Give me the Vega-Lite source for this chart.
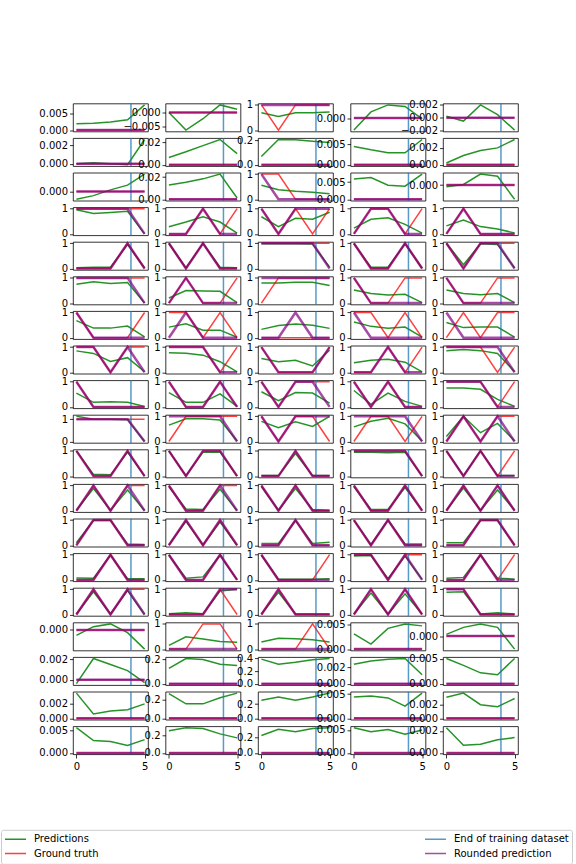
{
"$schema":"https://vega.github.io/schema/vega-lite/v6.json",
"padding":{"left":0,"top":99.5,"right":0,"bottom":0},
"background":"white",
"data":{"values":[
{"r":0,"c":0,"x":0,"g":0.002,"t":0,"p":0},{"r":0,"c":0,"x":1.25,"g":0.0021,"t":0,"p":0},{"r":0,"c":0,"x":2.5,"g":0.0025,"t":0,"p":0},{"r":0,"c":0,"x":3.75,"g":0.0032,"t":0,"p":0},{"r":0,"c":0,"x":5,"g":0.0078,"t":0,"p":0},
{"r":0,"c":1,"x":0,"g":0,"t":0,"p":0},{"r":0,"c":1,"x":1.25,"g":-0.0065,"t":0,"p":0},{"r":0,"c":1,"x":2.5,"g":-0.0023,"t":0,"p":0},{"r":0,"c":1,"x":3.75,"g":0.0028,"t":0,"p":0},{"r":0,"c":1,"x":5,"g":0.0012,"t":0,"p":0},
{"r":0,"c":2,"x":0,"g":0.69,"t":1,"p":1},{"r":0,"c":2,"x":1.25,"g":0.54,"t":0,"p":1},{"r":0,"c":2,"x":2.5,"g":0.69,"t":1,"p":1},{"r":0,"c":2,"x":3.75,"g":0.69,"t":1,"p":1},{"r":0,"c":2,"x":5,"g":0.72,"t":1,"p":1},
{"r":0,"c":3,"x":0,"g":-0.0031,"t":0,"p":0},{"r":0,"c":3,"x":1.25,"g":0.0016,"t":0,"p":0},{"r":0,"c":3,"x":2.5,"g":0.0034,"t":0,"p":0},{"r":0,"c":3,"x":3.75,"g":0.003,"t":0,"p":0},{"r":0,"c":3,"x":5,"g":-0.0002,"t":0,"p":0},
{"r":0,"c":4,"x":0,"g":0.00025,"t":0,"p":0},{"r":0,"c":4,"x":1.25,"g":-0.0005,"t":0,"p":0},{"r":0,"c":4,"x":2.5,"g":0.002,"t":0,"p":0},{"r":0,"c":4,"x":3.75,"g":0.0005,"t":0,"p":0},{"r":0,"c":4,"x":5,"g":-0.0019,"t":0,"p":0},
{"r":1,"c":0,"x":0,"g":0,"t":0,"p":0},{"r":1,"c":0,"x":1.25,"g":0.0001,"t":0,"p":0},{"r":1,"c":0,"x":2.5,"g":0,"t":0,"p":0},{"r":1,"c":0,"x":3.75,"g":-0.0001,"t":0,"p":0},{"r":1,"c":0,"x":5,"g":0.0026,"t":0,"p":0},
{"r":1,"c":1,"x":0,"g":0.0065,"t":0,"p":0},{"r":1,"c":1,"x":1.25,"g":0.0115,"t":0,"p":0},{"r":1,"c":1,"x":2.5,"g":0.017,"t":0,"p":0},{"r":1,"c":1,"x":3.75,"g":0.0225,"t":0,"p":0},{"r":1,"c":1,"x":5,"g":0.0099,"t":0,"p":0},
{"r":1,"c":2,"x":0,"g":0.067,"t":0,"p":0},{"r":1,"c":2,"x":1.25,"g":0.205,"t":0,"p":0},{"r":1,"c":2,"x":2.5,"g":0.203,"t":0,"p":0},{"r":1,"c":2,"x":3.75,"g":0.19,"t":0,"p":0},{"r":1,"c":2,"x":5,"g":0.18,"t":0,"p":0},
{"r":1,"c":3,"x":0,"g":0.0044,"t":0,"p":0},{"r":1,"c":3,"x":1.25,"g":0.0036,"t":0,"p":0},{"r":1,"c":3,"x":2.5,"g":0.0029,"t":0,"p":0},{"r":1,"c":3,"x":3.75,"g":0.0029,"t":0,"p":0},{"r":1,"c":3,"x":5,"g":0.0061,"t":0,"p":0},
{"r":1,"c":4,"x":0,"g":0.0002,"t":0,"p":0},{"r":1,"c":4,"x":1.25,"g":0.0011,"t":0,"p":0},{"r":1,"c":4,"x":2.5,"g":0.0017,"t":0,"p":0},{"r":1,"c":4,"x":3.75,"g":0.002,"t":0,"p":0},{"r":1,"c":4,"x":5,"g":0.003,"t":0,"p":0},
{"r":2,"c":0,"x":0,"g":-0.0015,"t":0,"p":0},{"r":2,"c":0,"x":1.25,"g":-0.0008,"t":0,"p":0},{"r":2,"c":0,"x":2.5,"g":0.0003,"t":0,"p":0},{"r":2,"c":0,"x":3.75,"g":0.0012,"t":0,"p":0},{"r":2,"c":0,"x":5,"g":0.0033,"t":0,"p":0},
{"r":2,"c":1,"x":0,"g":0.013,"t":0,"p":0},{"r":2,"c":1,"x":1.25,"g":0.0154,"t":0,"p":0},{"r":2,"c":1,"x":2.5,"g":0.0185,"t":0,"p":0},{"r":2,"c":1,"x":3.75,"g":0.0228,"t":0,"p":0},{"r":2,"c":1,"x":5,"g":0.0012,"t":0,"p":0},
{"r":2,"c":2,"x":0,"g":0.56,"t":1,"p":1},{"r":2,"c":2,"x":1.25,"g":0.38,"t":1,"p":0},{"r":2,"c":2,"x":2.5,"g":0.32,"t":0,"p":0},{"r":2,"c":2,"x":3.75,"g":0.28,"t":0,"p":0},{"r":2,"c":2,"x":5,"g":0.22,"t":0,"p":0},
{"r":2,"c":3,"x":0,"g":0.0059,"t":0,"p":0},{"r":2,"c":3,"x":1.25,"g":0.0063,"t":0,"p":0},{"r":2,"c":3,"x":2.5,"g":0.0041,"t":0,"p":0},{"r":2,"c":3,"x":3.75,"g":0.0038,"t":0,"p":0},{"r":2,"c":3,"x":5,"g":0.0073,"t":0,"p":0},
{"r":2,"c":4,"x":0,"g":-0.0003,"t":0,"p":0},{"r":2,"c":4,"x":1.25,"g":0.0001,"t":0,"p":0},{"r":2,"c":4,"x":2.5,"g":0.002,"t":0,"p":0},{"r":2,"c":4,"x":3.75,"g":0.0016,"t":0,"p":0},{"r":2,"c":4,"x":5,"g":-0.0026,"t":0,"p":0},
{"r":3,"c":0,"x":0,"g":0.96,"t":1,"p":1},{"r":3,"c":0,"x":1.25,"g":0.81,"t":1,"p":1},{"r":3,"c":0,"x":2.5,"g":0.85,"t":1,"p":1},{"r":3,"c":0,"x":3.75,"g":0.9,"t":1,"p":1},{"r":3,"c":0,"x":5,"g":0,"t":1,"p":0},
{"r":3,"c":1,"x":0,"g":0.28,"t":0,"p":0},{"r":3,"c":1,"x":1.25,"g":0.47,"t":0,"p":0},{"r":3,"c":1,"x":2.5,"g":0.68,"t":1,"p":1},{"r":3,"c":1,"x":3.75,"g":0.47,"t":0,"p":0},{"r":3,"c":1,"x":5,"g":0.03,"t":1,"p":0},
{"r":3,"c":2,"x":0,"g":0.68,"t":1,"p":1},{"r":3,"c":2,"x":1.25,"g":0.29,"t":0,"p":0},{"r":3,"c":2,"x":2.5,"g":0.62,"t":1,"p":1},{"r":3,"c":2,"x":3.75,"g":0.58,"t":0,"p":1},{"r":3,"c":2,"x":5,"g":0.86,"t":1,"p":1},
{"r":3,"c":3,"x":0,"g":0.23,"t":0,"p":0},{"r":3,"c":3,"x":1.25,"g":0.58,"t":1,"p":1},{"r":3,"c":3,"x":2.5,"g":0.64,"t":1,"p":1},{"r":3,"c":3,"x":3.75,"g":0.38,"t":0,"p":0},{"r":3,"c":3,"x":5,"g":0.03,"t":1,"p":0},
{"r":3,"c":4,"x":0,"g":0.32,"t":0,"p":0},{"r":3,"c":4,"x":1.25,"g":0.55,"t":1,"p":1},{"r":3,"c":4,"x":2.5,"g":0.29,"t":0,"p":0},{"r":3,"c":4,"x":3.75,"g":0.19,"t":0,"p":0},{"r":3,"c":4,"x":5,"g":0.04,"t":0,"p":0},
{"r":4,"c":0,"x":0,"g":0.03,"t":0,"p":0},{"r":4,"c":0,"x":1.25,"g":0.05,"t":0,"p":0},{"r":4,"c":0,"x":2.5,"g":0.05,"t":0,"p":0},{"r":4,"c":0,"x":3.75,"g":0.95,"t":1,"p":1},{"r":4,"c":0,"x":5,"g":0.02,"t":0,"p":0},
{"r":4,"c":1,"x":0,"g":1,"t":1,"p":1},{"r":4,"c":1,"x":1.25,"g":0.02,"t":0,"p":0},{"r":4,"c":1,"x":2.5,"g":1,"t":1,"p":1},{"r":4,"c":1,"x":3.75,"g":0.05,"t":0,"p":0},{"r":4,"c":1,"x":5,"g":0.03,"t":0,"p":0},
{"r":4,"c":2,"x":0,"g":0.98,"t":1,"p":1},{"r":4,"c":2,"x":1.25,"g":0.98,"t":1,"p":1},{"r":4,"c":2,"x":2.5,"g":0.98,"t":1,"p":1},{"r":4,"c":2,"x":3.75,"g":0.97,"t":1,"p":1},{"r":4,"c":2,"x":5,"g":0.05,"t":1,"p":0},
{"r":4,"c":3,"x":0,"g":0.98,"t":1,"p":1},{"r":4,"c":3,"x":1.25,"g":0.05,"t":0,"p":0},{"r":4,"c":3,"x":2.5,"g":0.05,"t":0,"p":0},{"r":4,"c":3,"x":3.75,"g":0.98,"t":1,"p":1},{"r":4,"c":3,"x":5,"g":0.02,"t":0,"p":0},
{"r":4,"c":4,"x":0,"g":1,"t":1,"p":1},{"r":4,"c":4,"x":1.25,"g":0.15,"t":0,"p":0},{"r":4,"c":4,"x":2.5,"g":0.98,"t":1,"p":1},{"r":4,"c":4,"x":3.75,"g":0.95,"t":1,"p":1},{"r":4,"c":4,"x":5,"g":0.02,"t":1,"p":0},
{"r":5,"c":0,"x":0,"g":0.75,"t":1,"p":1},{"r":5,"c":0,"x":1.25,"g":0.85,"t":1,"p":1},{"r":5,"c":0,"x":2.5,"g":0.78,"t":1,"p":1},{"r":5,"c":0,"x":3.75,"g":0.82,"t":1,"p":1},{"r":5,"c":0,"x":5,"g":0,"t":1,"p":0},
{"r":5,"c":1,"x":0,"g":0.2,"t":0,"p":0},{"r":5,"c":1,"x":1.25,"g":0.5,"t":1,"p":1},{"r":5,"c":1,"x":2.5,"g":0.48,"t":0,"p":0},{"r":5,"c":1,"x":3.75,"g":0.47,"t":0,"p":0},{"r":5,"c":1,"x":5,"g":0.02,"t":1,"p":0},
{"r":5,"c":2,"x":0,"g":0.8,"t":0,"p":1},{"r":5,"c":2,"x":1.25,"g":0.8,"t":1,"p":1},{"r":5,"c":2,"x":2.5,"g":0.83,"t":1,"p":1},{"r":5,"c":2,"x":3.75,"g":0.83,"t":1,"p":1},{"r":5,"c":2,"x":5,"g":0.7,"t":1,"p":1},
{"r":5,"c":3,"x":0,"g":0.52,"t":1,"p":1},{"r":5,"c":3,"x":1.25,"g":0.38,"t":0,"p":0},{"r":5,"c":3,"x":2.5,"g":0.32,"t":0,"p":0},{"r":5,"c":3,"x":3.75,"g":0.35,"t":1,"p":0},{"r":5,"c":3,"x":5,"g":0.02,"t":1,"p":0},
{"r":5,"c":4,"x":0,"g":0.52,"t":1,"p":1},{"r":5,"c":4,"x":1.25,"g":0.38,"t":0,"p":0},{"r":5,"c":4,"x":2.5,"g":0.33,"t":0,"p":0},{"r":5,"c":4,"x":3.75,"g":0.38,"t":1,"p":0},{"r":5,"c":4,"x":5,"g":0.02,"t":1,"p":0},
{"r":6,"c":0,"x":0,"g":0.68,"t":1,"p":1},{"r":6,"c":0,"x":1.25,"g":0.38,"t":0,"p":0},{"r":6,"c":0,"x":2.5,"g":0.38,"t":0,"p":0},{"r":6,"c":0,"x":3.75,"g":0.46,"t":0,"p":0},{"r":6,"c":0,"x":5,"g":0.03,"t":1,"p":0},
{"r":6,"c":1,"x":0,"g":0.42,"t":1,"p":0},{"r":6,"c":1,"x":1.25,"g":0.55,"t":1,"p":1},{"r":6,"c":1,"x":2.5,"g":0.3,"t":0,"p":0},{"r":6,"c":1,"x":3.75,"g":0.3,"t":1,"p":0},{"r":6,"c":1,"x":5,"g":0.02,"t":0,"p":0},
{"r":6,"c":2,"x":0,"g":0.33,"t":0,"p":0},{"r":6,"c":2,"x":1.25,"g":0.48,"t":0,"p":0},{"r":6,"c":2,"x":2.5,"g":0.54,"t":0,"p":1},{"r":6,"c":2,"x":3.75,"g":0.49,"t":0,"p":0},{"r":6,"c":2,"x":5,"g":0.37,"t":0,"p":0},
{"r":6,"c":3,"x":0,"g":0.62,"t":1,"p":1},{"r":6,"c":3,"x":1.25,"g":0.45,"t":1,"p":0},{"r":6,"c":3,"x":2.5,"g":0.38,"t":0,"p":0},{"r":6,"c":3,"x":3.75,"g":0.42,"t":1,"p":0},{"r":6,"c":3,"x":5,"g":0.02,"t":0,"p":0},
{"r":6,"c":4,"x":0,"g":0.6,"t":0,"p":1},{"r":6,"c":4,"x":1.25,"g":0.4,"t":1,"p":0},{"r":6,"c":4,"x":2.5,"g":0.42,"t":0,"p":0},{"r":6,"c":4,"x":3.75,"g":0.42,"t":1,"p":0},{"r":6,"c":4,"x":5,"g":0.02,"t":1,"p":0},
{"r":7,"c":0,"x":0,"g":0.85,"t":1,"p":1},{"r":7,"c":0,"x":1.25,"g":0.75,"t":1,"p":1},{"r":7,"c":0,"x":2.5,"g":0.43,"t":0,"p":0},{"r":7,"c":0,"x":3.75,"g":0.58,"t":1,"p":1},{"r":7,"c":0,"x":5,"g":0.02,"t":1,"p":0},
{"r":7,"c":1,"x":0,"g":0.78,"t":1,"p":1},{"r":7,"c":1,"x":1.25,"g":0.76,"t":1,"p":1},{"r":7,"c":1,"x":2.5,"g":0.68,"t":1,"p":1},{"r":7,"c":1,"x":3.75,"g":0.42,"t":0,"p":0},{"r":7,"c":1,"x":5,"g":0.02,"t":1,"p":0},
{"r":7,"c":2,"x":0,"g":0.55,"t":1,"p":1},{"r":7,"c":2,"x":1.25,"g":0.42,"t":0,"p":0},{"r":7,"c":2,"x":2.5,"g":0.48,"t":0,"p":0},{"r":7,"c":2,"x":3.75,"g":0.25,"t":0,"p":0},{"r":7,"c":2,"x":5,"g":0.88,"t":1,"p":1},
{"r":7,"c":3,"x":0,"g":0.38,"t":0,"p":0},{"r":7,"c":3,"x":1.25,"g":0.48,"t":0,"p":0},{"r":7,"c":3,"x":2.5,"g":0.52,"t":1,"p":1},{"r":7,"c":3,"x":3.75,"g":0.4,"t":0,"p":0},{"r":7,"c":3,"x":5,"g":0.02,"t":1,"p":0},
{"r":7,"c":4,"x":0,"g":0.86,"t":1,"p":1},{"r":7,"c":4,"x":1.25,"g":0.9,"t":1,"p":1},{"r":7,"c":4,"x":2.5,"g":0.86,"t":1,"p":1},{"r":7,"c":4,"x":3.75,"g":0.75,"t":0,"p":1},{"r":7,"c":4,"x":5,"g":0.02,"t":1,"p":0},
{"r":8,"c":0,"x":0,"g":0.55,"t":1,"p":1},{"r":8,"c":0,"x":1.25,"g":0.18,"t":0,"p":0},{"r":8,"c":0,"x":2.5,"g":0.2,"t":0,"p":0},{"r":8,"c":0,"x":3.75,"g":0.18,"t":0,"p":0},{"r":8,"c":0,"x":5,"g":0.02,"t":0,"p":0},
{"r":8,"c":1,"x":0,"g":0.57,"t":1,"p":1},{"r":8,"c":1,"x":1.25,"g":0.18,"t":0,"p":0},{"r":8,"c":1,"x":2.5,"g":0.18,"t":0,"p":0},{"r":8,"c":1,"x":3.75,"g":0.52,"t":1,"p":1},{"r":8,"c":1,"x":5,"g":0.02,"t":0,"p":0},
{"r":8,"c":2,"x":0,"g":0.6,"t":1,"p":1},{"r":8,"c":2,"x":1.25,"g":0.25,"t":0,"p":0},{"r":8,"c":2,"x":2.5,"g":0.57,"t":1,"p":1},{"r":8,"c":2,"x":3.75,"g":0.55,"t":1,"p":1},{"r":8,"c":2,"x":5,"g":0.15,"t":1,"p":0},
{"r":8,"c":3,"x":0,"g":0.65,"t":1,"p":1},{"r":8,"c":3,"x":1.25,"g":0.1,"t":0,"p":0},{"r":8,"c":3,"x":2.5,"g":0.55,"t":1,"p":1},{"r":8,"c":3,"x":3.75,"g":0.22,"t":0,"p":0},{"r":8,"c":3,"x":5,"g":0.02,"t":0,"p":0},
{"r":8,"c":4,"x":0,"g":0.75,"t":1,"p":1},{"r":8,"c":4,"x":1.25,"g":0.75,"t":1,"p":1},{"r":8,"c":4,"x":2.5,"g":0.7,"t":1,"p":1},{"r":8,"c":4,"x":3.75,"g":0.3,"t":0,"p":0},{"r":8,"c":4,"x":5,"g":0.02,"t":1,"p":0},
{"r":9,"c":0,"x":0,"g":1.13,"t":1,"p":1},{"r":9,"c":0,"x":1.25,"g":1,"t":1,"p":1},{"r":9,"c":0,"x":2.5,"g":1,"t":1,"p":1},{"r":9,"c":0,"x":3.75,"g":0.98,"t":1,"p":1},{"r":9,"c":0,"x":5,"g":0,"t":1,"p":0},
{"r":9,"c":1,"x":0,"g":0.65,"t":0,"p":1},{"r":9,"c":1,"x":1.25,"g":0.9,"t":1,"p":1},{"r":9,"c":1,"x":2.5,"g":0.9,"t":1,"p":1},{"r":9,"c":1,"x":3.75,"g":0.85,"t":1,"p":1},{"r":9,"c":1,"x":5,"g":0.02,"t":1,"p":0},
{"r":9,"c":2,"x":0,"g":0.8,"t":1,"p":1},{"r":9,"c":2,"x":1.25,"g":0.55,"t":0,"p":0},{"r":9,"c":2,"x":2.5,"g":0.78,"t":1,"p":1},{"r":9,"c":2,"x":3.75,"g":0.6,"t":1,"p":1},{"r":9,"c":2,"x":5,"g":1,"t":0,"p":1},
{"r":9,"c":3,"x":0,"g":0.58,"t":0,"p":1},{"r":9,"c":3,"x":1.25,"g":0.8,"t":1,"p":1},{"r":9,"c":3,"x":2.5,"g":0.92,"t":1,"p":1},{"r":9,"c":3,"x":3.75,"g":0.7,"t":0,"p":1},{"r":9,"c":3,"x":5,"g":0.02,"t":1,"p":0},
{"r":9,"c":4,"x":0,"g":0.2,"t":0,"p":0},{"r":9,"c":4,"x":1.25,"g":1,"t":1,"p":1},{"r":9,"c":4,"x":2.5,"g":0.35,"t":0,"p":0},{"r":9,"c":4,"x":3.75,"g":0.72,"t":1,"p":1},{"r":9,"c":4,"x":5,"g":0.02,"t":1,"p":0},
{"r":10,"c":0,"x":0,"g":1,"t":1,"p":1},{"r":10,"c":0,"x":1.25,"g":0.07,"t":0,"p":0},{"r":10,"c":0,"x":2.5,"g":0.05,"t":0,"p":0},{"r":10,"c":0,"x":3.75,"g":0.95,"t":1,"p":1},{"r":10,"c":0,"x":5,"g":0,"t":0,"p":0},
{"r":10,"c":1,"x":0,"g":1,"t":1,"p":1},{"r":10,"c":1,"x":1.25,"g":0.02,"t":0,"p":0},{"r":10,"c":1,"x":2.5,"g":0.95,"t":1,"p":1},{"r":10,"c":1,"x":3.75,"g":0.95,"t":1,"p":1},{"r":10,"c":1,"x":5,"g":0,"t":0,"p":0},
{"r":10,"c":2,"x":0,"g":0.02,"t":0,"p":0},{"r":10,"c":2,"x":1.25,"g":0.02,"t":0,"p":0},{"r":10,"c":2,"x":2.5,"g":0.9,"t":1,"p":1},{"r":10,"c":2,"x":3.75,"g":0.02,"t":0,"p":0},{"r":10,"c":2,"x":5,"g":0.02,"t":0,"p":0},
{"r":10,"c":3,"x":0,"g":0.95,"t":1,"p":1},{"r":10,"c":3,"x":1.25,"g":0.95,"t":1,"p":1},{"r":10,"c":3,"x":2.5,"g":0.93,"t":1,"p":1},{"r":10,"c":3,"x":3.75,"g":0.95,"t":1,"p":1},{"r":10,"c":3,"x":5,"g":0,"t":0,"p":0},
{"r":10,"c":4,"x":0,"g":1,"t":1,"p":1},{"r":10,"c":4,"x":1.25,"g":0.02,"t":0,"p":0},{"r":10,"c":4,"x":2.5,"g":1,"t":1,"p":1},{"r":10,"c":4,"x":3.75,"g":0.02,"t":0,"p":0},{"r":10,"c":4,"x":5,"g":0.02,"t":1,"p":0},
{"r":11,"c":0,"x":0,"g":0.02,"t":0,"p":0},{"r":11,"c":0,"x":1.25,"g":0.88,"t":1,"p":1},{"r":11,"c":0,"x":2.5,"g":0.02,"t":0,"p":0},{"r":11,"c":0,"x":3.75,"g":0.82,"t":1,"p":1},{"r":11,"c":0,"x":5,"g":0,"t":1,"p":0},
{"r":11,"c":1,"x":0,"g":0.95,"t":1,"p":1},{"r":11,"c":1,"x":1.25,"g":0.07,"t":0,"p":0},{"r":11,"c":1,"x":2.5,"g":0.05,"t":0,"p":0},{"r":11,"c":1,"x":3.75,"g":0.85,"t":1,"p":1},{"r":11,"c":1,"x":5,"g":0,"t":1,"p":0},
{"r":11,"c":2,"x":0,"g":0.95,"t":1,"p":1},{"r":11,"c":2,"x":1.25,"g":0.02,"t":0,"p":0},{"r":11,"c":2,"x":2.5,"g":0.88,"t":1,"p":1},{"r":11,"c":2,"x":3.75,"g":0.05,"t":0,"p":0},{"r":11,"c":2,"x":5,"g":0.02,"t":0,"p":0},
{"r":11,"c":3,"x":0,"g":0.95,"t":1,"p":1},{"r":11,"c":3,"x":1.25,"g":0.05,"t":0,"p":0},{"r":11,"c":3,"x":2.5,"g":0.05,"t":0,"p":0},{"r":11,"c":3,"x":3.75,"g":0.92,"t":1,"p":1},{"r":11,"c":3,"x":5,"g":0.02,"t":0,"p":0},
{"r":11,"c":4,"x":0,"g":0.02,"t":0,"p":0},{"r":11,"c":4,"x":1.25,"g":0.9,"t":1,"p":1},{"r":11,"c":4,"x":2.5,"g":0.02,"t":0,"p":0},{"r":11,"c":4,"x":3.75,"g":0.82,"t":1,"p":1},{"r":11,"c":4,"x":5,"g":0.02,"t":0,"p":0},
{"r":12,"c":0,"x":0,"g":0.1,"t":0,"p":0},{"r":12,"c":0,"x":1.25,"g":0.98,"t":1,"p":1},{"r":12,"c":0,"x":2.5,"g":0.98,"t":1,"p":1},{"r":12,"c":0,"x":3.75,"g":0.05,"t":0,"p":0},{"r":12,"c":0,"x":5,"g":0.03,"t":0,"p":0},
{"r":12,"c":1,"x":0,"g":0.02,"t":0,"p":0},{"r":12,"c":1,"x":1.25,"g":0.95,"t":1,"p":1},{"r":12,"c":1,"x":2.5,"g":0.02,"t":0,"p":0},{"r":12,"c":1,"x":3.75,"g":0.92,"t":1,"p":1},{"r":12,"c":1,"x":5,"g":0,"t":0,"p":0},
{"r":12,"c":2,"x":0,"g":0.07,"t":0,"p":0},{"r":12,"c":2,"x":1.25,"g":0.07,"t":0,"p":0},{"r":12,"c":2,"x":2.5,"g":0.98,"t":1,"p":1},{"r":12,"c":2,"x":3.75,"g":0.07,"t":0,"p":0},{"r":12,"c":2,"x":5,"g":0.12,"t":0,"p":0},
{"r":12,"c":3,"x":0,"g":1,"t":1,"p":1},{"r":12,"c":3,"x":1.25,"g":0.02,"t":0,"p":0},{"r":12,"c":3,"x":2.5,"g":1,"t":1,"p":1},{"r":12,"c":3,"x":3.75,"g":0.05,"t":0,"p":0},{"r":12,"c":3,"x":5,"g":0.05,"t":0,"p":0},
{"r":12,"c":4,"x":0,"g":0.1,"t":0,"p":0},{"r":12,"c":4,"x":1.25,"g":0.1,"t":0,"p":0},{"r":12,"c":4,"x":2.5,"g":0.98,"t":1,"p":1},{"r":12,"c":4,"x":3.75,"g":0.98,"t":1,"p":1},{"r":12,"c":4,"x":5,"g":0,"t":0,"p":0},
{"r":13,"c":0,"x":0,"g":0.08,"t":0,"p":0},{"r":13,"c":0,"x":1.25,"g":0.07,"t":0,"p":0},{"r":13,"c":0,"x":2.5,"g":0.98,"t":1,"p":1},{"r":13,"c":0,"x":3.75,"g":0.05,"t":0,"p":0},{"r":13,"c":0,"x":5,"g":0.05,"t":0,"p":0},
{"r":13,"c":1,"x":0,"g":0.98,"t":1,"p":1},{"r":13,"c":1,"x":1.25,"g":0.07,"t":0,"p":0},{"r":13,"c":1,"x":2.5,"g":0.12,"t":0,"p":0},{"r":13,"c":1,"x":3.75,"g":0.98,"t":1,"p":1},{"r":13,"c":1,"x":5,"g":0,"t":0,"p":0},
{"r":13,"c":2,"x":0,"g":0.98,"t":1,"p":1},{"r":13,"c":2,"x":1.25,"g":0.03,"t":0,"p":0},{"r":13,"c":2,"x":2.5,"g":0.03,"t":0,"p":0},{"r":13,"c":2,"x":3.75,"g":0.03,"t":0,"p":0},{"r":13,"c":2,"x":5,"g":0.05,"t":1,"p":0},
{"r":13,"c":3,"x":0,"g":0.95,"t":1,"p":1},{"r":13,"c":3,"x":1.25,"g":0.97,"t":1,"p":1},{"r":13,"c":3,"x":2.5,"g":0.05,"t":0,"p":0},{"r":13,"c":3,"x":3.75,"g":0.95,"t":1,"p":1},{"r":13,"c":3,"x":5,"g":0.02,"t":1,"p":0},
{"r":13,"c":4,"x":0,"g":0.07,"t":0,"p":0},{"r":13,"c":4,"x":1.25,"g":0.1,"t":0,"p":0},{"r":13,"c":4,"x":2.5,"g":0.98,"t":1,"p":1},{"r":13,"c":4,"x":3.75,"g":0.07,"t":0,"p":0},{"r":13,"c":4,"x":5,"g":0.03,"t":1,"p":0},
{"r":14,"c":0,"x":0,"g":0.02,"t":0,"p":0},{"r":14,"c":0,"x":1.25,"g":0.9,"t":1,"p":1},{"r":14,"c":0,"x":2.5,"g":0.02,"t":0,"p":0},{"r":14,"c":0,"x":3.75,"g":0.95,"t":1,"p":1},{"r":14,"c":0,"x":5,"g":0,"t":1,"p":0},
{"r":14,"c":1,"x":0,"g":0.03,"t":0,"p":0},{"r":14,"c":1,"x":1.25,"g":0.07,"t":0,"p":0},{"r":14,"c":1,"x":2.5,"g":0.03,"t":0,"p":0},{"r":14,"c":1,"x":3.75,"g":0.93,"t":1,"p":1},{"r":14,"c":1,"x":5,"g":1,"t":0,"p":1},
{"r":14,"c":2,"x":0,"g":0.02,"t":0,"p":0},{"r":14,"c":2,"x":1.25,"g":0.88,"t":1,"p":1},{"r":14,"c":2,"x":2.5,"g":0.02,"t":0,"p":0},{"r":14,"c":2,"x":3.75,"g":0.02,"t":0,"p":0},{"r":14,"c":2,"x":5,"g":0.02,"t":0,"p":0},
{"r":14,"c":3,"x":0,"g":0.02,"t":0,"p":0},{"r":14,"c":3,"x":1.25,"g":0.85,"t":1,"p":1},{"r":14,"c":3,"x":2.5,"g":0.02,"t":0,"p":0},{"r":14,"c":3,"x":3.75,"g":0.82,"t":1,"p":1},{"r":14,"c":3,"x":5,"g":0.02,"t":0,"p":0},
{"r":14,"c":4,"x":0,"g":0.88,"t":1,"p":1},{"r":14,"c":4,"x":1.25,"g":0.9,"t":1,"p":1},{"r":14,"c":4,"x":2.5,"g":0.02,"t":0,"p":0},{"r":14,"c":4,"x":3.75,"g":0.07,"t":0,"p":0},{"r":14,"c":4,"x":5,"g":0.02,"t":0,"p":0},
{"r":15,"c":0,"x":0,"g":-0.001,"t":0,"p":0},{"r":15,"c":0,"x":1.25,"g":0.0006,"t":0,"p":0},{"r":15,"c":0,"x":2.5,"g":0.0011,"t":0,"p":0},{"r":15,"c":0,"x":3.75,"g":-0.0005,"t":0,"p":0},{"r":15,"c":0,"x":5,"g":-0.0035,"t":0,"p":0},
{"r":15,"c":1,"x":0,"g":0.15,"t":0,"p":0},{"r":15,"c":1,"x":1.25,"g":0.49,"t":0,"p":0},{"r":15,"c":1,"x":2.5,"g":0.4,"t":1,"p":0},{"r":15,"c":1,"x":3.75,"g":0.3,"t":1,"p":0},{"r":15,"c":1,"x":5,"g":0.27,"t":0,"p":0},
{"r":15,"c":2,"x":0,"g":0.28,"t":0,"p":0},{"r":15,"c":2,"x":1.25,"g":0.43,"t":0,"p":0},{"r":15,"c":2,"x":2.5,"g":0.41,"t":0,"p":0},{"r":15,"c":2,"x":3.75,"g":0.37,"t":1,"p":0},{"r":15,"c":2,"x":5,"g":0.28,"t":0,"p":0},
{"r":15,"c":3,"x":0,"g":0.0031,"t":0,"p":0},{"r":15,"c":3,"x":1.25,"g":0.001,"t":0,"p":0},{"r":15,"c":3,"x":2.5,"g":0.0042,"t":0,"p":0},{"r":15,"c":3,"x":3.75,"g":0.0051,"t":0,"p":0},{"r":15,"c":3,"x":5,"g":0.0047,"t":0,"p":0},
{"r":15,"c":4,"x":0,"g":0.0002,"t":0,"p":0},{"r":15,"c":4,"x":1.25,"g":0.001,"t":0,"p":0},{"r":15,"c":4,"x":2.5,"g":0.0014,"t":0,"p":0},{"r":15,"c":4,"x":3.75,"g":0.001,"t":0,"p":0},{"r":15,"c":4,"x":5,"g":-0.0015,"t":0,"p":0},
{"r":16,"c":0,"x":0,"g":-0.0004,"t":0,"p":0},{"r":16,"c":0,"x":1.25,"g":0.0021,"t":0,"p":0},{"r":16,"c":0,"x":2.5,"g":0.0015,"t":0,"p":0},{"r":16,"c":0,"x":3.75,"g":0.0009,"t":0,"p":0},{"r":16,"c":0,"x":5,"g":-0.0003,"t":0,"p":0},
{"r":16,"c":1,"x":0,"g":0.126,"t":0,"p":0},{"r":16,"c":1,"x":1.25,"g":0.208,"t":0,"p":0},{"r":16,"c":1,"x":2.5,"g":0.2,"t":0,"p":0},{"r":16,"c":1,"x":3.75,"g":0.16,"t":0,"p":0},{"r":16,"c":1,"x":5,"g":0.15,"t":0,"p":0},
{"r":16,"c":2,"x":0,"g":0.39,"t":0,"p":0},{"r":16,"c":2,"x":1.25,"g":0.31,"t":0,"p":0},{"r":16,"c":2,"x":2.5,"g":0.34,"t":0,"p":0},{"r":16,"c":2,"x":3.75,"g":0.38,"t":0,"p":0},{"r":16,"c":2,"x":5,"g":0.4,"t":0,"p":0},
{"r":16,"c":3,"x":0,"g":0.0024,"t":0,"p":0},{"r":16,"c":3,"x":1.25,"g":0.0028,"t":0,"p":0},{"r":16,"c":3,"x":2.5,"g":0.003,"t":0,"p":0},{"r":16,"c":3,"x":3.75,"g":0.0031,"t":0,"p":0},{"r":16,"c":3,"x":5,"g":0.0011,"t":0,"p":0},
{"r":16,"c":4,"x":0,"g":0.0051,"t":0,"p":0},{"r":16,"c":4,"x":1.25,"g":0.0037,"t":0,"p":0},{"r":16,"c":4,"x":2.5,"g":0.0022,"t":0,"p":0},{"r":16,"c":4,"x":3.75,"g":0.0018,"t":0,"p":0},{"r":16,"c":4,"x":5,"g":0.0051,"t":0,"p":0},
{"r":17,"c":0,"x":0,"g":0.0035,"t":0,"p":0},{"r":17,"c":0,"x":1.25,"g":0.0006,"t":0,"p":0},{"r":17,"c":0,"x":2.5,"g":0.001,"t":0,"p":0},{"r":17,"c":0,"x":3.75,"g":0.0012,"t":0,"p":0},{"r":17,"c":0,"x":5,"g":0.002,"t":0,"p":0},
{"r":17,"c":1,"x":0,"g":0.265,"t":0,"p":0},{"r":17,"c":1,"x":1.25,"g":0.155,"t":0,"p":0},{"r":17,"c":1,"x":2.5,"g":0.155,"t":0,"p":0},{"r":17,"c":1,"x":3.75,"g":0.22,"t":0,"p":0},{"r":17,"c":1,"x":5,"g":0.27,"t":0,"p":0},
{"r":17,"c":2,"x":0,"g":0.255,"t":0,"p":0},{"r":17,"c":2,"x":1.25,"g":0.3,"t":0,"p":0},{"r":17,"c":2,"x":2.5,"g":0.255,"t":0,"p":0},{"r":17,"c":2,"x":3.75,"g":0.3,"t":0,"p":0},{"r":17,"c":2,"x":5,"g":0.355,"t":0,"p":0},
{"r":17,"c":3,"x":0,"g":0.0044,"t":0,"p":0},{"r":17,"c":3,"x":1.25,"g":0.0046,"t":0,"p":0},{"r":17,"c":3,"x":2.5,"g":0.0042,"t":0,"p":0},{"r":17,"c":3,"x":3.75,"g":0.0025,"t":0,"p":0},{"r":17,"c":3,"x":5,"g":0.0052,"t":0,"p":0},
{"r":17,"c":4,"x":0,"g":0.0031,"t":0,"p":0},{"r":17,"c":4,"x":1.25,"g":0.0037,"t":0,"p":0},{"r":17,"c":4,"x":2.5,"g":0.002,"t":0,"p":0},{"r":17,"c":4,"x":3.75,"g":0.0017,"t":0,"p":0},{"r":17,"c":4,"x":5,"g":0.0029,"t":0,"p":0},
{"r":18,"c":0,"x":0,"g":0.0057,"t":0,"p":0},{"r":18,"c":0,"x":1.25,"g":0.0028,"t":0,"p":0},{"r":18,"c":0,"x":2.5,"g":0.0026,"t":0,"p":0},{"r":18,"c":0,"x":3.75,"g":0.0017,"t":0,"p":0},{"r":18,"c":0,"x":5,"g":0.003,"t":0,"p":0},
{"r":18,"c":1,"x":0,"g":0.25,"t":0,"p":0},{"r":18,"c":1,"x":1.25,"g":0.285,"t":0,"p":0},{"r":18,"c":1,"x":2.5,"g":0.275,"t":0,"p":0},{"r":18,"c":1,"x":3.75,"g":0.215,"t":0,"p":0},{"r":18,"c":1,"x":5,"g":0.17,"t":0,"p":0},
{"r":18,"c":2,"x":0,"g":0.22,"t":0,"p":0},{"r":18,"c":2,"x":1.25,"g":0.3,"t":0,"p":0},{"r":18,"c":2,"x":2.5,"g":0.27,"t":0,"p":0},{"r":18,"c":2,"x":3.75,"g":0.31,"t":0,"p":0},{"r":18,"c":2,"x":5,"g":0.32,"t":0,"p":0},
{"r":18,"c":3,"x":0,"g":0.0055,"t":0,"p":0},{"r":18,"c":3,"x":1.25,"g":0.0046,"t":0,"p":0},{"r":18,"c":3,"x":2.5,"g":0.0051,"t":0,"p":0},{"r":18,"c":3,"x":3.75,"g":0.0041,"t":0,"p":0},{"r":18,"c":3,"x":5,"g":0.005,"t":0,"p":0},
{"r":18,"c":4,"x":0,"g":0.0023,"t":0,"p":0},{"r":18,"c":4,"x":1.25,"g":0.0007,"t":0,"p":0},{"r":18,"c":4,"x":2.5,"g":0.0008,"t":0,"p":0},{"r":18,"c":4,"x":3.75,"g":0.0012,"t":0,"p":0},{"r":18,"c":4,"x":5,"g":0.0014,"t":0,"p":0}
]},
"transform":[{"fold":["g","t","p"],"as":["s","v"]}],
"facet":{
 "row":{"field":"r","type":"ordinal","header":null},
 "column":{"field":"c","type":"ordinal","header":null}
},
"spacing":{"row":6.6,"column":17.5},
"bounds":"flush",
"resolve":{"scale":{"y":"independent"},"axis":{"y":"independent"}},
"spec":{
 "width":75,"height":28,
 "encoding":{
  "x":{"field":"x","type":"quantitative","scale":{"domain":[-0.25,5.25],"nice":false,"zero":false},"axis":{"values":[0,5],"format":"d","labelFlush":false,"labelPadding":3.5}}
 },
 "layer":[
  {"transform":[{"filter":"datum.s == 'g'"}],"mark":{"type":"line","strokeWidth":1.5},
   "encoding":{"y":{"field":"v","type":"quantitative","scale":{"zero":false,"nice":false,"padding":1.4}},
    "color":{"field":"s","type":"nominal","scale":{"domain":["g","t","e","p"],"range":["rgba(0,128,0,0.85)","rgba(255,0,0,0.75)","rgba(31,119,180,0.75)","rgba(128,0,128,0.7)"]},
     "legend":{"title":null,"labelExpr":"datum.label == 'g' ? 'Predictions' : datum.label == 't' ? 'Ground truth' : datum.label == 'e' ? 'End of training dataset' : 'Rounded prediction'"}}}},
  {"transform":[{"filter":"datum.s == 't'"}],"mark":{"type":"line","strokeWidth":1.5},
   "encoding":{"y":{"field":"v","type":"quantitative"},"color":{"field":"s","type":"nominal","scale":{"domain":["g","t","e","p"]}}}},
  {"transform":[{"filter":"datum.s == 'g' && datum.x == 0"}],"mark":{"type":"rule","strokeWidth":1.5},
   "encoding":{"x":{"datum":4,"type":"quantitative"},"color":{"datum":"e","type":"nominal","scale":{"domain":["g","t","e","p"]}}}},
  {"transform":[{"filter":"datum.s == 'p'"}],"mark":{"type":"line","strokeWidth":2.5},
   "encoding":{"y":{"field":"v","type":"quantitative"},"color":{"field":"s","type":"nominal","scale":{"domain":["g","t","e","p"]}}}}
 ]
},
"config":{
 "font":"DejaVu Sans",
 "view":{"stroke":"black","strokeWidth":0.8},
 "axis":{"domain":false,"grid":false,"title":null,"tickColor":"black","tickWidth":0.8,"tickSize":3.5,"labelFontSize":10,"labelColor":"black","labelFont":"DejaVu Sans","labelPadding":2},
 "axisY":{"tickCount":1.5,"labelPadding":2},
 "legend":{"orient":"none","legendX":-72,"legendY":726.3,"columns":2,"symbolType":"stroke","symbolSize":441,"symbolStrokeWidth":1.5,"labelFontSize":10,"labelFont":"DejaVu Sans","labelColor":"black","labelOffset":7,"labelLimit":400,"columnPadding":325,"rowPadding":1.3,"clipHeight":13,"padding":3,"strokeColor":"#cccccc","cornerRadius":2,"fillColor":"white"}
}
}
